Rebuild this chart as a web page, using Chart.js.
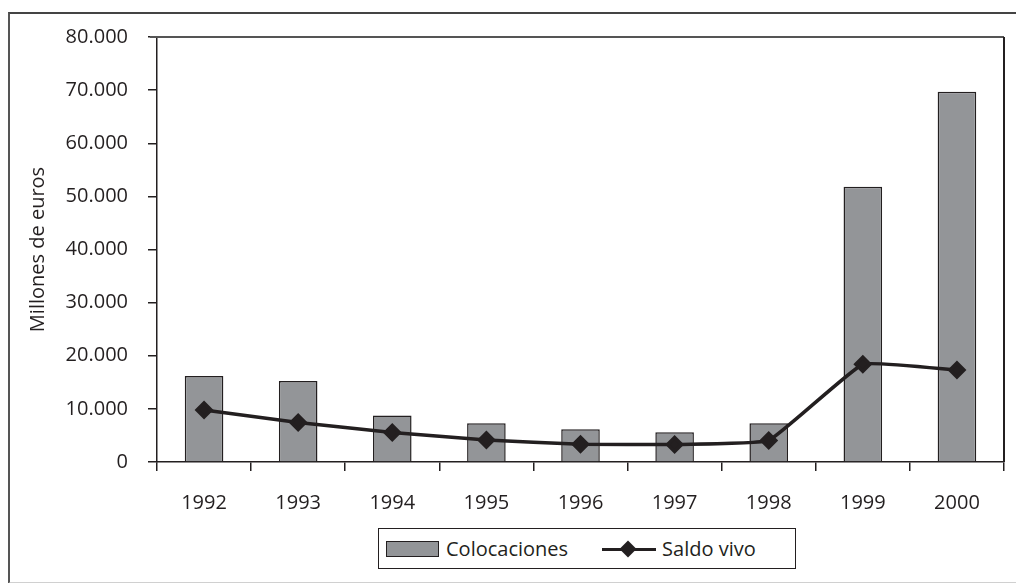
<!DOCTYPE html>
<html>
<head>
<meta charset="utf-8">
<script src="https://cdn.jsdelivr.net/npm/chart.js@4"></script>
<style>
  html, body { margin: 0; padding: 0; background: #fff; overflow: hidden; }
  body { width: 1016px; height: 583px; position: relative; font-family: "Open Sans", sans-serif; color: #231f20; }
  #frame { position: absolute; left: 8px; top: 12px; width: 1100px; height: 568px;
           border-left: 2px solid #555; border-top: 2px solid #444; border-bottom: 2px solid #d0d0d0; }
  #chartBox { position: absolute; left: 0; top: 0; width: 1016px; height: 583px; }
  #legend { position: absolute; left: 378px; top: 528px; width: 418px; height: 41px; box-sizing: border-box;
            border: 1.5px solid #231f20; display: flex; align-items: center; font-size: 20px; background: #fff; }
  .item { display: flex; align-items: center; }
  .swatch { width: 53px; height: 16px; background: #939598; border: 1.5px solid #231f20; box-sizing: border-box; margin: 0 7px 0 7px; }
  .lineKey { position: relative; width: 54px; height: 16px; margin: 0 6px 0 34px; }
  .lineKey::before { content: ''; position: absolute; left: 0; right: 0; top: 7px; height: 3px; background: #231f20; }
  .lineKey::after { content: ''; position: absolute; left: 20px; top: 2px; width: 12px; height: 12px; background: #231f20; transform: rotate(45deg); }
</style>
</head>
<body>
<div id="frame"></div>
<div id="chartBox"><canvas id="chart" width="1016" height="583"></canvas></div>
<div id="legend"></div>
<script>
// ===== datos =====
const years = ['1992', '1993', '1994', '1995', '1996', '1997', '1998', '1999', '2000'];
const colocaciones = [16200, 15250, 8750, 7300, 6150, 5600, 7300, 51800, 69700];
const saldoVivo = [9800, 7450, 5550, 4150, 3350, 3300, 4050, 18400, 17300];
const yTicks = [0, 10000, 20000, 30000, 40000, 50000, 60000, 70000, 80000];
const yTickLabels = ['0', '10.000', '20.000', '30.000', '40.000', '50.000', '60.000', '70.000', '80.000'];

const ink = '#231f20';
const font = { family: '"Open Sans", sans-serif', size: 20 };

// marco superior y derecho del area del grafico
const plotFrame = {
  id: 'plotFrame',
  afterDraw(chart) {
    const { ctx, chartArea: a } = chart;
    ctx.save();
    ctx.lineWidth = 2;
    ctx.strokeStyle = '#555';
    ctx.beginPath();
    ctx.moveTo(a.left - 7, a.top);
    ctx.lineTo(a.right, a.top);
    ctx.stroke();
    ctx.strokeStyle = ink;
    ctx.beginPath();
    ctx.moveTo(a.right, a.top);
    ctx.lineTo(a.right, a.bottom);
    ctx.stroke();
    ctx.restore();
  }
};

const chart = new Chart(document.getElementById('chart'), {
  data: {
    labels: years,
    datasets: [{
      type: 'bar',
      label: 'Colocaciones',
      data: colocaciones,
      backgroundColor: '#939598',
      borderColor: ink,
      borderWidth: 1.5,
      categoryPercentage: 1,
      barPercentage: 0.41,
      order: 1
    }, {
      type: 'line',
      label: 'Saldo vivo',
      data: saldoVivo,
      borderColor: ink,
      borderWidth: 3.5,
      pointStyle: 'rectRot',
      pointRadius: 7,
      pointBackgroundColor: ink,
      pointBorderColor: ink,
      tension: 0.1,
      order: 0
    }]
  },
  options: {
    responsive: false,
    animation: false,
    layout: { padding: { top: 37, right: 12, left: 0, bottom: 0 } },
    plugins: { legend: { display: false }, tooltip: { enabled: false } },
    scales: {
      x: {
        grid: { offset: true, drawOnChartArea: false, tickLength: 9, color: ink, lineWidth: 1.5 },
        border: { color: ink, width: 1.5 },
        ticks: { color: ink, font: font, padding: 20, maxRotation: 0 },
        afterFit(scale) { scale.height = 121; }
      },
      y: {
        min: 0,
        max: 80000,
        afterBuildTicks(scale) { scale.ticks = yTicks.map(v => ({ value: v })); },
        grid: { drawOnChartArea: false, tickLength: 9, color: ink, lineWidth: 1.5 },
        border: { color: ink, width: 1.5 },
        ticks: {
          color: ink, font: font, padding: 20,
          callback: (v) => yTickLabels[yTicks.indexOf(v)]
        },
        title: { display: true, text: 'Millones de euros', color: ink, font: { family: '"Open Sans", sans-serif', size: 20 }, padding: { top: 26, bottom: 0 } },
        afterFit(scale) { scale.width = 157; }
      }
    }
  },
  plugins: [plotFrame]
});

// ===== leyenda =====
const legend = document.getElementById('legend');
legend.innerHTML =
  '<span class="item"><span class="swatch"></span>' + chart.data.datasets[0].label + '</span>' +
  '<span class="item"><span class="lineKey"></span>' + chart.data.datasets[1].label + '</span>';
</script>
</body>
</html>
